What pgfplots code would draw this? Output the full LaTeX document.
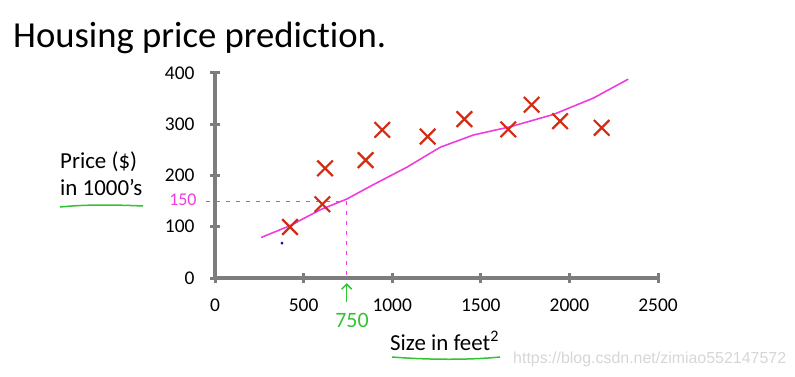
\documentclass[border=0pt]{standalone}
\usepackage{pgfplots}
\pgfplotsset{compat=1.18}
\usetikzlibrary{arrows.meta}
\usepackage{fontspec}
\setmainfont{Carlito}[Ligatures=NoCommon]
\newfontfamily\arialfont{Liberation Sans}
\definecolor{xred}{RGB}{210,45,20}
\definecolor{pen}{RGB}{240,60,220}
\definecolor{grn}{RGB}{50,195,50}
\definecolor{axgray}{RGB}{125,125,125}
\begin{document}
\begin{tikzpicture}[x=1bp,y=1bp]
\useasboundingbox (0,0) rectangle (795,376);
\node[anchor=base west, font=\fontsize{36.8}{36.8}\selectfont, inner sep=0] at (13,329) {Housing price prediction.};
\node[anchor=base west, font=\fontsize{23}{23}\selectfont, inner sep=0] at (60,208) {Price (\$)};
\node[anchor=base west, font=\fontsize{23}{23}\selectfont, inner sep=0] at (60,181) {in 1000’s};
\draw[grn, line width=1.5bp] (60,169) .. controls (90,172) and (120,171) .. (143,170);
\node[anchor=base west, font=\fontsize{23}{23}\selectfont, inner sep=0] at (390,26) {Size in feet\textsuperscript{2}};
\draw[grn, line width=1.5bp] (392,19) .. controls (430,16) and (470,16) .. (500,19);
\node[anchor=base west, font=\arialfont\fontsize{16}{16}\selectfont, inner sep=0, text=black!16] at (513,13) {https://blog.csdn.net/zimiao552147572};
\begin{axis}[
  at={(215bp,98bp)}, anchor=south west,
  scale only axis, width=443bp, height=205bp,
  xmin=0, xmax=2500, ymin=0, ymax=400,
  axis lines=left,
  axis line style={-, draw=axgray, line width=3.5bp},
  every outer x axis line/.append style={-, draw=axgray, line width=3.5bp},
  every outer y axis line/.append style={-, draw=axgray, line width=3.5bp},
  xtick={0,500,1000,1500,2000,2500}, ytick={0,100,200,300,400},
  tick align=center, major tick length=10bp,
  every tick/.append style={draw=axgray, line width=3bp},
  major tick style={draw=axgray, line width=3bp},
  tick label style={font=\fontsize{19.5}{19.5}\selectfont},
  /pgf/number format/assume math mode=true,
  /pgf/number format/1000 sep={},
  xticklabel style={yshift=-12bp},
  yticklabel style={xshift=-12bp},
  clip=false,
]
\addplot[pen, line width=0.8bp, dash pattern=on 4bp off 6bp] coordinates {(-50,150) (740,150) (740,0)};
\addplot[pen, line width=1.6bp] coordinates {(260,79) (423,102) (593,133) (743,154) (893,182) (1082,216) (1270,255) (1458,279) (1665,295) (1909,319) (2135,351) (2332,388)};
\addplot[only marks, mark=x, mark size=11bp, mark options={xred, line width=2.2bp}] coordinates {
(423,99.5) (606,144) (621,214) (850,230) (944,289) (1200,276) (1407,310) (1655,290) (1787,338) (1947,306) (2182,293)};
\addplot[only marks, mark=*, mark size=1.2bp, color=blue!60!black] coordinates {(378,68)};
\draw[grn, line width=1.5bp, -{Straight Barb[length=5bp,width=10bp]}] (axis cs:743,-47) -- (axis cs:743,-10);
\node[text=pen, font=\fontsize{18}{18}\selectfont] at (axis cs:-181,152) {150};
\node[text=grn, font=\fontsize{22}{22}\selectfont] at (axis cs:773,-82) {750};
\end{axis}
\end{tikzpicture}
\end{document}
